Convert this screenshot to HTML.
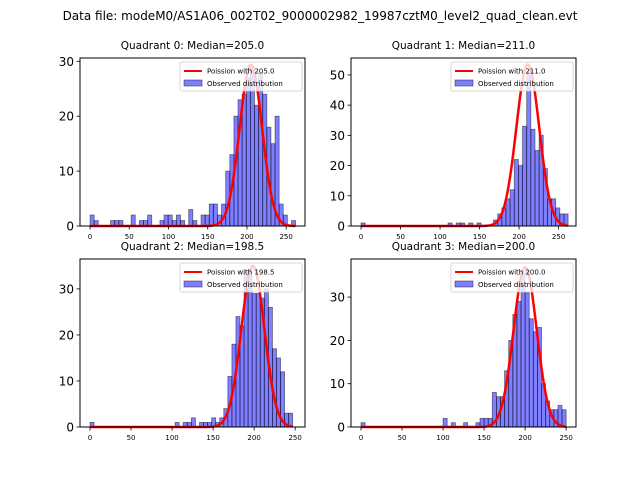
<!DOCTYPE html>
<html><head><meta charset="utf-8"><style>
body{margin:0;background:#fff;}
svg{display:block;font-family:"DejaVu Sans","Liberation Sans",sans-serif;}
</style></head><body>
<svg id="fig" width="640" height="480" viewBox="0 0 640 480">
<text x="320" y="20" text-anchor="middle" font-size="12">Data file: modeM0/AS1A06_002T02_9000002982_19987cztM0_level2_quad_clean.evt</text>
</svg>
<script>
// Histogram counts (50 bins each)
const q0Counts=[2,1,0,0,0,1,1,1,0,0,2,0,1,1,2,0,0,1,2,2,1,2,1,0,3,1,0,2,2,4,4,2,4,10,13,20,23,24,27,29,22,28,24,18,15,20,4,2,0,1];
const q1Counts=[1,0,0,0,0,0,0,0,0,0,0,0,0,0,0,0,0,0,0,0,0,1,0,1,1,0,1,0,1,0,0,0,2,4,6,9,12,22,20,33,51,32,25,30,19,9,9,6,4,4];
const q2Counts=[1,0,0,0,0,0,0,0,0,0,0,0,0,0,0,0,0,0,0,0,0,1,0,1,1,2,0,1,1,1,2,1,2,4,11,18,24,22,34,33,29,29,28,30,26,17,15,12,3,3];
const q3Counts=[1,0,0,0,0,0,0,0,0,0,0,0,0,0,0,0,0,0,0,0,2,0,1,0,0,1,0,0,1,2,2,2,8,7,7,13,20,26,29,36,31,25,22,23,10,6,4,4,5,4];
const binMax=[262,262,247,250];
const medians=[205.0,211.0,198.5,200.0];
const curvePeaks=[29.4,53.5,35,36.9];
const yTicks=[[0,10,20,30],[0,10,20,30,40,50],[0,10,20,30],[0,10,20,30]];
const xTicks=[[0,50,100,150,200,250],[0,50,100,150,200,250],[0,50,100,150,200,250],[0,50,100,150,200,250]];
const yMax=[30.6,55.6,36.5,38.8];
const xLim=[[-12.8,274],[-12.7,272],[-12.2,262],[-12.2,262]];
const allCounts=[q0Counts,q1Counts,q2Counts,q3Counts];

const boxes=[[80,58,225,168],[351,58,225,168],[80,259,225,168],[351,259,225,168]];
const NS="http://www.w3.org/2000/svg";
const svg=document.getElementById('fig');
function mk(tag,attrs,parent){const e=document.createElementNS(NS,tag);for(const k in attrs)e.setAttribute(k,attrs[k]);(parent||svg).appendChild(e);return e;}

for(let q=0;q<4;q++){
  const [bx,by,bw,bh]=boxes[q];
  const g=mk('g',{});
  
  
  const xs=v=>bx+(v-xLim[q][0])/(xLim[q][1]-xLim[q][0])*bw;
  const ys=v=>by+bh-v/yMax[q]*bh;
  const t=mk('text',{x:bx+bw/2,y:by-9,'text-anchor':'middle','font-size':'10.5'},g);
  t.textContent='Quadrant '+q+': Median='+medians[q].toFixed(1);
  
  
  // bars
  const counts=allCounts[q];const w=binMax[q]/counts.length;
  counts.forEach((n,i)=>{
    if(n<=0)return;
    const r=mk('rect',{x:xs(i*w),y:ys(n),width:xs((i+1)*w)-xs(i*w),height:ys(0)-ys(n),fill:'rgba(0,0,255,0.5)',stroke:'rgba(0,0,0,0.5)','stroke-width':0.8},g);
    
    
  });
  // curve on top
  const lam=medians[q];let d='';
  for(let v=0;v<=binMax[q];v+=1){const y=curvePeaks[q]*Math.exp(-(v-lam)*(v-lam)/(2*lam));d+=(v?'L':'M')+xs(v).toFixed(2)+','+ys(y).toFixed(2);}
  const c=mk('path',{d:d,fill:'none',stroke:'#ff0000','stroke-width':2.5},g);
  
  
  const f=mk('rect',{x:bx,y:by,width:bw,height:bh,fill:'none',stroke:'#000','stroke-width':1},g);
  
  
  yTicks[q].forEach(v=>{
    mk('line',{x1:bx-3.5,x2:bx,y1:ys(v),y2:ys(v),stroke:'#000','stroke-width':0.8},g);
    const l=mk('text',{x:bx-6,y:ys(v)+4.5,'text-anchor':'end','font-size':'12'},g);
    l.textContent=v;
    
    
  });
  xTicks[q].forEach(v=>{
    mk('line',{x1:xs(v),x2:xs(v),y1:by+bh,y2:by+bh+3.5,stroke:'#000','stroke-width':0.8},g);
    const l=mk('text',{x:xs(v),y:by+bh+13,'text-anchor':'middle','font-size':'7'},g);
    l.textContent=v;
    
    
  });
  const lg=mk('g',{},g);
  
  
  const lx=bx+bw-125,ly=by+4;
  mk('rect',{x:lx,y:ly,width:122,height:29,fill:'#fff','fill-opacity':0.8,stroke:'#ccc','stroke-width':0.8,rx:2},lg);
  mk('line',{x1:lx+4,x2:lx+22,y1:ly+9,y2:ly+9,stroke:'#f00','stroke-width':2},lg);
  const t1=mk('text',{x:lx+27,y:ly+11.5,'font-size':'7'},lg);t1.textContent='Poission with '+medians[q].toFixed(1);
  
  
  mk('rect',{x:lx+4,y:ly+18,width:18,height:6,fill:'rgba(0,0,255,0.5)',stroke:'rgba(0,0,0,0.5)','stroke-width':0.8},lg);
  const t2=mk('text',{x:lx+27,y:ly+24,'font-size':'7'},lg);t2.textContent='Observed distribution';
  
  
}
</script>
</body></html>
